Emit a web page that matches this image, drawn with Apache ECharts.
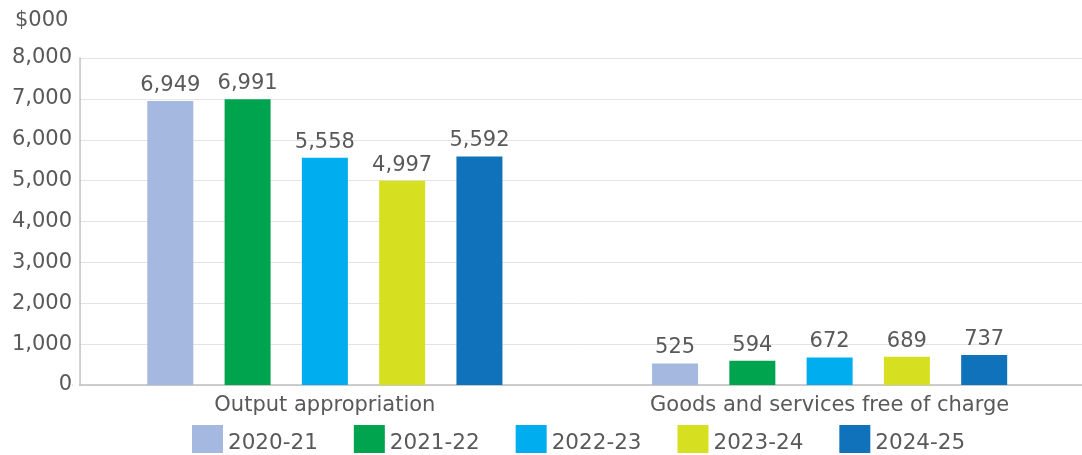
<!DOCTYPE html>
<html><head><meta charset="utf-8">
<script src="https://cdn.jsdelivr.net/npm/echarts@6/dist/echarts.min.js"></script>
<style>html,body{margin:0;padding:0;background:#fff}#c{width:1082px;height:455px}</style>
</head><body><div id="c"></div>
<script>
const categories = ['Output appropriation', 'Goods and services free of charge'];
const years = ['2020-21', '2021-22', '2022-23', '2023-24', '2024-25'];
const values = {
  '2020-21': [6949, 525],
  '2021-22': [6991, 594],
  '2022-23': [5558, 672],
  '2023-24': [4997, 689],
  '2024-25': [5592, 737]
};
const colors = ['#a4b8e0', '#00a44f', '#00adee', '#d6e021', '#0f72ba'];
const yTicks = [0, 1000, 2000, 3000, 4000, 5000, 6000, 7000, 8000];

const FONT = '"DejaVu Sans"';
const TXT = '#595959';
const chart = echarts.init(document.getElementById('c'), null, {renderer: 'canvas'});
chart.setOption({
  animation: false,
  textStyle: {fontFamily: FONT},
  grid: {left: 72.5, right: -4.5, top: 58, bottom: 70},
  legend: {
    top: 420, left: 187,
    itemWidth: 31, itemHeight: 28, itemGap: 36,
    icon: 'rect',
    formatter: n => '{a|' + n + '}',
    textStyle: {fontFamily: FONT, fontSize: 21.5, color: TXT,
      rich: {a: {fontFamily: FONT, fontSize: 21.5, color: TXT, padding: [9, 0, 0, 0]}}},
    data: years
  },
  graphic: [
    {type: 'rect', z: 100, shape: {x: 72.5, y: 40, width: 6.6, height: 350}, style: {fill: '#fff'}},
    {type: 'text', z: 101, left: 15, top: 10, style: {text: '$000', font: '21px ' + FONT, fill: TXT}}
  ],
  xAxis: {
    type: 'category', data: categories,
    axisLine: {lineStyle: {color: '#bfbfbf', width: 1.5}},
    axisTick: {show: false},
    axisLabel: {fontFamily: FONT, fontSize: 21, color: TXT, margin: 10}
  },
  yAxis: {
    type: 'value', min: yTicks[0], max: yTicks[yTicks.length - 1], interval: 1000,
    offset: -7.5,
    axisLine: {show: true, lineStyle: {color: '#bfbfbf', width: 1.5}},
    axisTick: {show: false},
    splitLine: {lineStyle: {color: '#e3e3e3', width: 1}},
    axisLabel: {fontFamily: FONT, fontSize: 21, color: TXT, margin: 8,
      formatter: v => v.toLocaleString('en-US')}
  },
  series: years.map((y, i) => ({
    name: y, type: 'bar', data: values[y],
    barWidth: 46, barGap: '68%', barCategoryGap: '29.6%',
    itemStyle: {color: colors[i]},
    label: {show: true, position: 'top', distance: 5, fontFamily: FONT, fontSize: 21, color: TXT,
      formatter: p => p.value.toLocaleString('en-US')}
  }))
});
</script></body></html>
